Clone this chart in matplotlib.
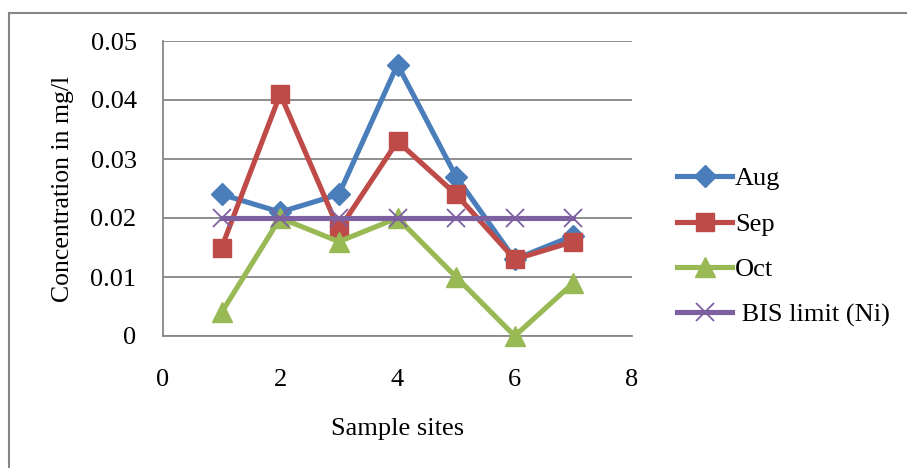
import matplotlib
matplotlib.use('Agg')
import matplotlib.pyplot as plt
from matplotlib.lines import Line2D

plt.rcParams['font.family'] = ['Liberation Serif', 'DejaVu Serif']

sites = [1, 2, 3, 4, 5, 6, 7]
aug = [0.024, 0.021, 0.024, 0.046, 0.027, 0.013, 0.017]
sep = [0.015, 0.041, 0.018, 0.033, 0.024, 0.013, 0.016]
octo = [0.004, 0.020, 0.016, 0.020, 0.010, 0.000, 0.009]
bis = [0.02, 0.02, 0.02, 0.02, 0.02, 0.02, 0.02]
labels = ['Aug', 'Sep', 'Oct', ' BIS limit (Ni)']

W, H = 907, 468
fs = 19
fig = plt.figure(figsize=(W / 100, H / 100), dpi=100)
ax = fig.add_axes([163 / W, 1 - 336 / H, (632 - 163) / W, (336 - 41) / H])

gray = '#868686'
styles = [
    dict(color='#4A7EBB', marker='D', ms=11),
    dict(color='#BE4B48', marker='s', ms=13),
    dict(color='#98B954', marker='^', ms=14.5),
    dict(color='#7D60A0', marker='x', ms=13, mew=1.3),
]
for i, ys in enumerate([aug, sep, octo, bis]):
    ax.plot(sites, ys, lw=3.7, clip_on=False, zorder=3 + i, **styles[i])

ax.set_xlim(0, 8)
ax.set_ylim(0, 0.05)
ax.set_xticks([0, 2, 4, 6, 8])
ax.set_yticks([0, 0.01, 0.02, 0.03, 0.04, 0.05])
ax.set_yticklabels(['0', '0.01', '0.02', '0.03', '0.04', '0.05'])
ax.tick_params(length=0, labelsize=fs)
ax.tick_params(axis='x', pad=24)
ax.tick_params(axis='y', pad=19)
ax.yaxis.grid(True, color=gray, lw=1.3)
ax.set_axisbelow(True)
for s in ['top', 'right']:
    ax.spines[s].set_visible(False)
for s in ['left', 'bottom']:
    ax.spines[s].set_color(gray)
    ax.spines[s].set_linewidth(1.3)

ax.set_xlabel('Sample sites', fontsize=fs, labelpad=19)
ax.set_ylabel('Concentration in mg/l', fontsize=18.5, labelpad=12)

handles = [Line2D([], [], lw=3.7, **st) for st in styles]
fig.legend(handles, labels, loc='upper left', bbox_to_anchor=(677 / W, 1 - 167 / H),
           frameon=False, fontsize=fs, handlelength=2.1, handletextpad=0.1,
           labelspacing=0.83, borderaxespad=0, borderpad=0)

# outer frame (top and left edge only visible)
fig.add_artist(Line2D([9 / W, 9 / W], [0, 1 - 13 / H], color=gray, lw=1.5))
fig.add_artist(Line2D([9 / W, 1], [1 - 13 / H, 1 - 13 / H], color=gray, lw=1.5))

fig.savefig('out.png', dpi=100)
